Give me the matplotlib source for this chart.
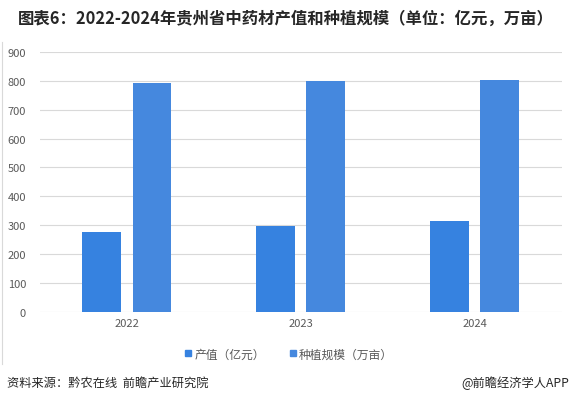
import numpy as np
import matplotlib.pyplot as plt
from matplotlib.lines import Line2D

plt.rcParams['font.family'] = ['Noto Sans CJK SC', 'DejaVu Sans']

# 数据
years = ['2022', '2023', '2024']
output_value = [277.4, 298.9, 315.0]      # 产值（亿元）
planting_area = [792.0, 800.0, 804.0]    # 种植规模（万亩）
y_ticks = [0, 100, 200, 300, 400, 500, 600, 700, 800, 900]

c1 = '#3682E0'
c2 = '#4588DE'

fig = plt.figure(figsize=(5.71, 4.06), dpi=100)
ax = fig.add_axes([0.070, 0.229, 0.914, 0.641])

x = np.arange(len(years))
w = 0.224
off = 0.144
ax.bar(x - off, output_value, width=w, color=c1, zorder=3)
ax.bar(x + off, planting_area, width=w, color=c2, zorder=3)

ax.set_xlim(-0.5, 2.5)
ax.set_ylim(0, 900)
ax.set_yticks(y_ticks)
ax.set_xticks(x)
ax.set_xticklabels(years)
ax.grid(axis='y', color='#d9d9d9', linewidth=0.8, zorder=0)
for s in ax.spines.values():
    s.set_visible(False)
ax.tick_params(axis='both', length=0, labelsize=8, colors='#595959')
ax.tick_params(axis='y', pad=10)
ax.tick_params(axis='x', pad=4)

# 标题
fig.text(0.032, 0.955, '图表6：2022-2024年贵州省中药材产值和种植规模（单位：亿元，万亩）',
         fontsize=11.8, fontweight='bold', color='#262626', va='center', ha='left')

# 图例
handles = [Line2D([], [], marker='s', linestyle='', color=c1, markersize=4.5),
           Line2D([], [], marker='s', linestyle='', color=c2, markersize=4.5)]
fig.legend(handles, ['产值（亿元）', '种植规模（万亩）'], loc='center',
           bbox_to_anchor=(0.505, 0.126), ncol=2, frameon=False, fontsize=8.5,
           handletextpad=0.1, columnspacing=2.0, labelcolor='#595959',
           handlelength=0.8)

# 来源
fig.text(0.012, 0.057, '资料来源：黔农在线  前瞻产业研究院', fontsize=8.8,
         color='#262626', va='center', ha='left')
fig.text(0.997, 0.057, '@前瞻经济学人APP', fontsize=8.8,
         color='#262626', va='center', ha='right')

# 左侧竖线
fig.add_artist(Line2D([0.004, 0.004], [0.10, 0.895], color='#d9d9d9',
                      linewidth=0.8, transform=fig.transFigure))

fig.savefig('out.png', dpi=100)
